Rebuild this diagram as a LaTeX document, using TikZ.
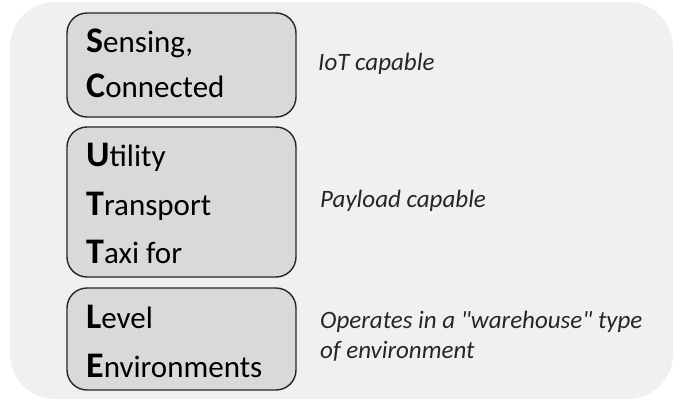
\documentclass[tikz,border=0pt]{standalone}
\usepackage{fontspec}
\setmainfont{Carlito}
\definecolor{panel}{HTML}{F0F0F0}
\definecolor{boxfill}{HTML}{D9D9D9}
\definecolor{boxline}{HTML}{262626}
\newcommand{\lead}[1]{{\fontsize{36}{36}\selectfont\bfseries #1}}
\begin{document}
\begin{tikzpicture}[x=1pt,y=-1pt,
  box/.style={draw=boxline,fill=boxfill,line width=1.4pt,rounded corners=20pt,
    minimum width=229pt,inner sep=0pt},
  word/.style={anchor=base west,inner sep=0pt,text=black,font=\fontsize{31}{31}\selectfont},
  note/.style={anchor=base west,inner sep=0pt,text=boxline,align=left,
    font=\fontsize{25}{30}\selectfont\itshape}]
\useasboundingbox (0,0) rectangle (673,402);
% light panel behind everything
\fill[panel,rounded corners=45pt] (10,2) rectangle (673,399);
% the three acronym boxes
\node[box,minimum height=104pt] (sc) at (181.5,65) {};
\node[box,minimum height=150pt] (utt) at (181.5,202) {};
\node[box,minimum height=102pt] (le) at (181.5,339) {};
% letters
\node[word] (s) at (86,52) {\lead{S}ensing,};
\node[word] (c) at (86,97) {\lead{C}onnected};
\node[word] (u) at (86,166) {\lead{U}tility};
\node[word] (t1) at (86,215) {\lead{T}ransport};
\node[word] (t2) at (86,263) {\lead{T}axi for};
\node[word] (l) at (86,328) {\lead{L}evel};
\node[word] (e) at (86,377) {\lead{E}nvironments};
% what each part means
\node[note] (iot) at (318,70) {IoT capable};
\node[note] (pay) at (320,207) {Payload capable};
\node[note] (ops) at (320,358) {Operates in a \textquotedbl warehouse\textquotedbl\ type\\of environment};
\end{tikzpicture}
\end{document}
